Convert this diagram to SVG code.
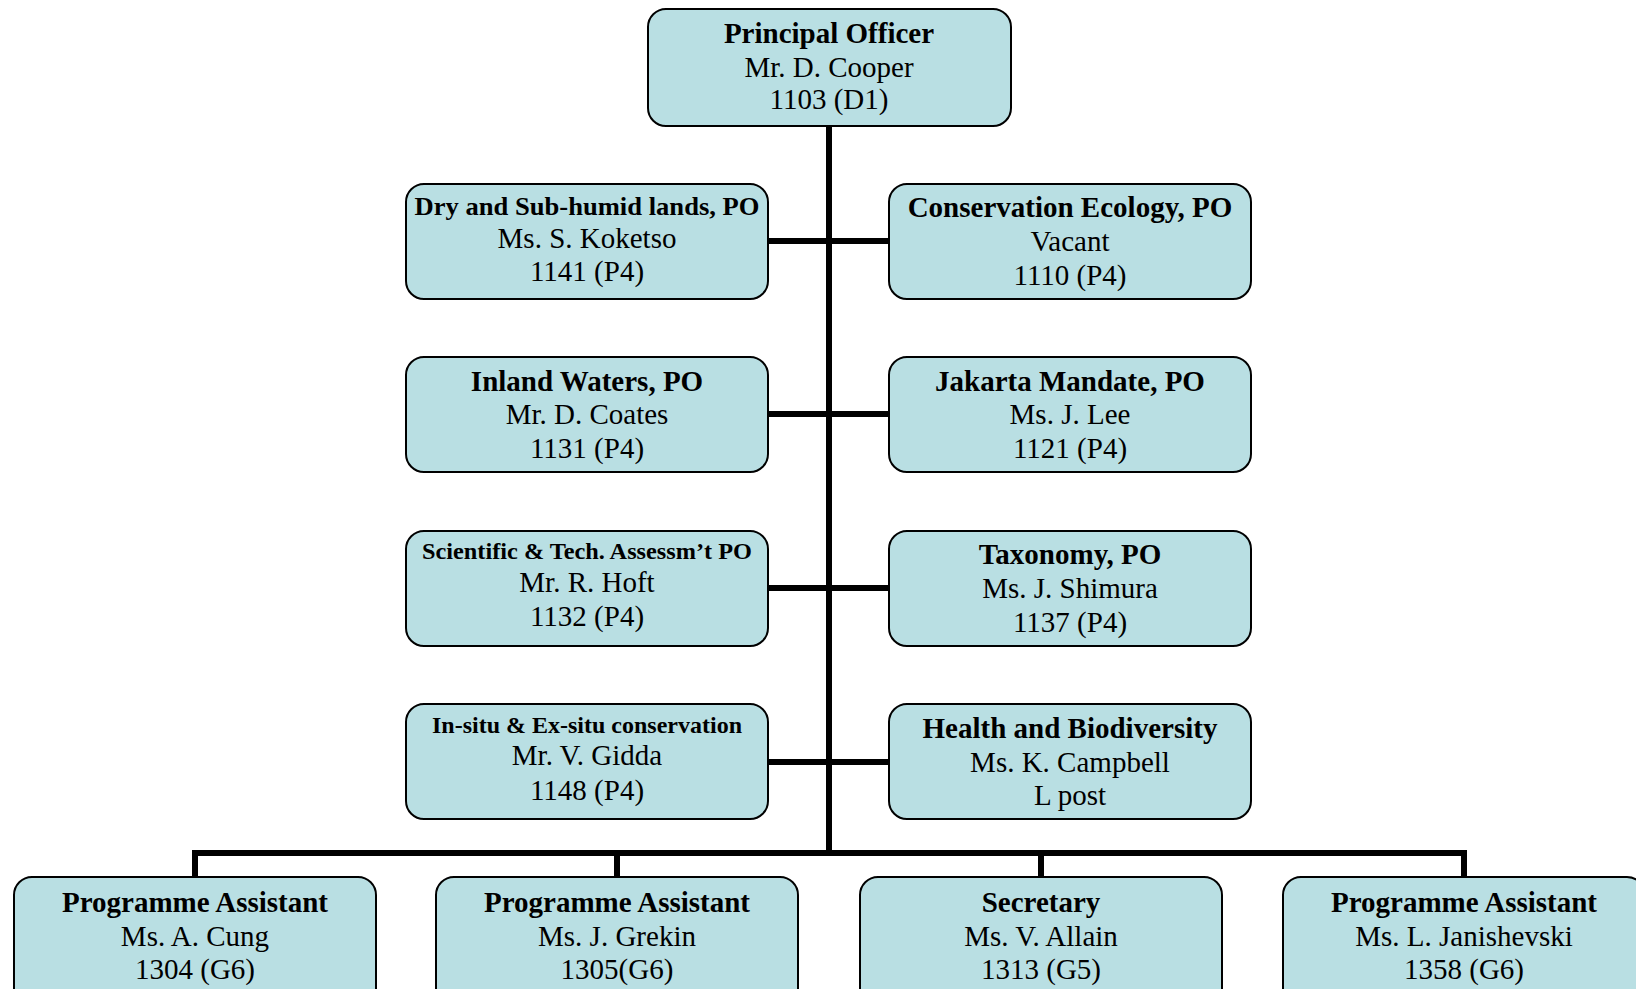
<svg xmlns="http://www.w3.org/2000/svg" width="1636" height="989" viewBox="0 0 1636 989">
<style>
.box{fill:#b9dfe3;stroke:#000;stroke-width:2}
.t{font-family:"Liberation Serif","Times New Roman",serif;font-size:29px;text-anchor:middle;fill:#000}
.b{font-weight:bold}
.c{stroke:#000;stroke-width:6;fill:none}
</style>
<rect width="1636" height="989" fill="#fff"/>
<g id="connectors">
<line class="c" x1="829" y1="126" x2="829" y2="856"/>
<line class="c" x1="768" y1="241" x2="889" y2="241"/>
<line class="c" x1="768" y1="414" x2="889" y2="414"/>
<line class="c" x1="768" y1="588" x2="889" y2="588"/>
<line class="c" x1="768" y1="762" x2="889" y2="762"/>
<polyline class="c" points="195,877 195,853 1464,853 1464,877"/>
<line class="c" x1="617" y1="853" x2="617" y2="877"/>
<line class="c" x1="1041" y1="853" x2="1041" y2="877"/>
</g>
<g id="principal">
<rect class="box" x="648" y="9" width="363" height="117" rx="18"/>
<text class="t b" x="829" y="43">Principal Officer</text>
<text class="t" x="829" y="77">Mr. D. Cooper</text>
<text class="t" x="829" y="109">1103 (D1)</text>
</g>
<g id="dry">
<rect class="box" x="406" y="184" width="362" height="115" rx="18"/>
<text class="t b" x="587" y="215" style="font-size:26px" textLength="345" lengthAdjust="spacingAndGlyphs">Dry and Sub-humid lands, PO</text>
<text class="t" x="587" y="248">Ms. S. Koketso</text>
<text class="t" x="587" y="281">1141 (P4)</text>
</g>
<g id="conservation">
<rect class="box" x="889" y="184" width="362" height="115" rx="18"/>
<text class="t b" x="1070" y="217">Conservation Ecology, PO</text>
<text class="t" x="1070" y="251">Vacant</text>
<text class="t" x="1070" y="285">1110 (P4)</text>
</g>
<g id="inland">
<rect class="box" x="406" y="357" width="362" height="115" rx="18"/>
<text class="t b" x="587" y="391">Inland Waters, PO</text>
<text class="t" x="587" y="424">Mr. D. Coates</text>
<text class="t" x="587" y="458">1131 (P4)</text>
</g>
<g id="jakarta">
<rect class="box" x="889" y="357" width="362" height="115" rx="18"/>
<text class="t b" x="1070" y="391">Jakarta Mandate, PO</text>
<text class="t" x="1070" y="424">Ms. J. Lee</text>
<text class="t" x="1070" y="458">1121 (P4)</text>
</g>
<g id="scientific">
<rect class="box" x="406" y="531" width="362" height="115" rx="18"/>
<text class="t b" x="587" y="559" style="font-size:23px" textLength="330" lengthAdjust="spacingAndGlyphs">Scientific &amp; Tech. Assessm’t PO</text>
<text class="t" x="587" y="592">Mr. R. Hoft</text>
<text class="t" x="587" y="626">1132 (P4)</text>
</g>
<g id="taxonomy">
<rect class="box" x="889" y="531" width="362" height="115" rx="18"/>
<text class="t b" x="1070" y="564">Taxonomy, PO</text>
<text class="t" x="1070" y="598">Ms. J. Shimura</text>
<text class="t" x="1070" y="632">1137 (P4)</text>
</g>
<g id="insitu">
<rect class="box" x="406" y="704" width="362" height="115" rx="18"/>
<text class="t b" x="587" y="733" style="font-size:23px" textLength="310" lengthAdjust="spacingAndGlyphs">In-situ &amp; Ex-situ conservation</text>
<text class="t" x="587" y="765">Mr. V. Gidda</text>
<text class="t" x="587" y="800">1148 (P4)</text>
</g>
<g id="health">
<rect class="box" x="889" y="704" width="362" height="115" rx="18"/>
<text class="t b" x="1070" y="738">Health and Biodiversity</text>
<text class="t" x="1070" y="772">Ms. K. Campbell</text>
<text class="t" x="1070" y="805">L post</text>
</g>
<g id="pa1">
<rect class="box" x="14" y="877" width="362" height="130" rx="18"/>
<text class="t b" x="195" y="912">Programme Assistant</text>
<text class="t" x="195" y="946">Ms. A. Cung</text>
<text class="t" x="195" y="979">1304 (G6)</text>
</g>
<g id="pa2">
<rect class="box" x="436" y="877" width="362" height="130" rx="18"/>
<text class="t b" x="617" y="912">Programme Assistant</text>
<text class="t" x="617" y="946">Ms. J. Grekin</text>
<text class="t" x="617" y="979">1305(G6)</text>
</g>
<g id="secretary">
<rect class="box" x="860" y="877" width="362" height="130" rx="18"/>
<text class="t b" x="1041" y="912">Secretary</text>
<text class="t" x="1041" y="946">Ms. V. Allain</text>
<text class="t" x="1041" y="979">1313 (G5)</text>
</g>
<g id="pa3">
<rect class="box" x="1283" y="877" width="362" height="130" rx="18"/>
<text class="t b" x="1464" y="912">Programme Assistant</text>
<text class="t" x="1464" y="946">Ms. L. Janishevski</text>
<text class="t" x="1464" y="979">1358 (G6)</text>
</g>
</svg>
